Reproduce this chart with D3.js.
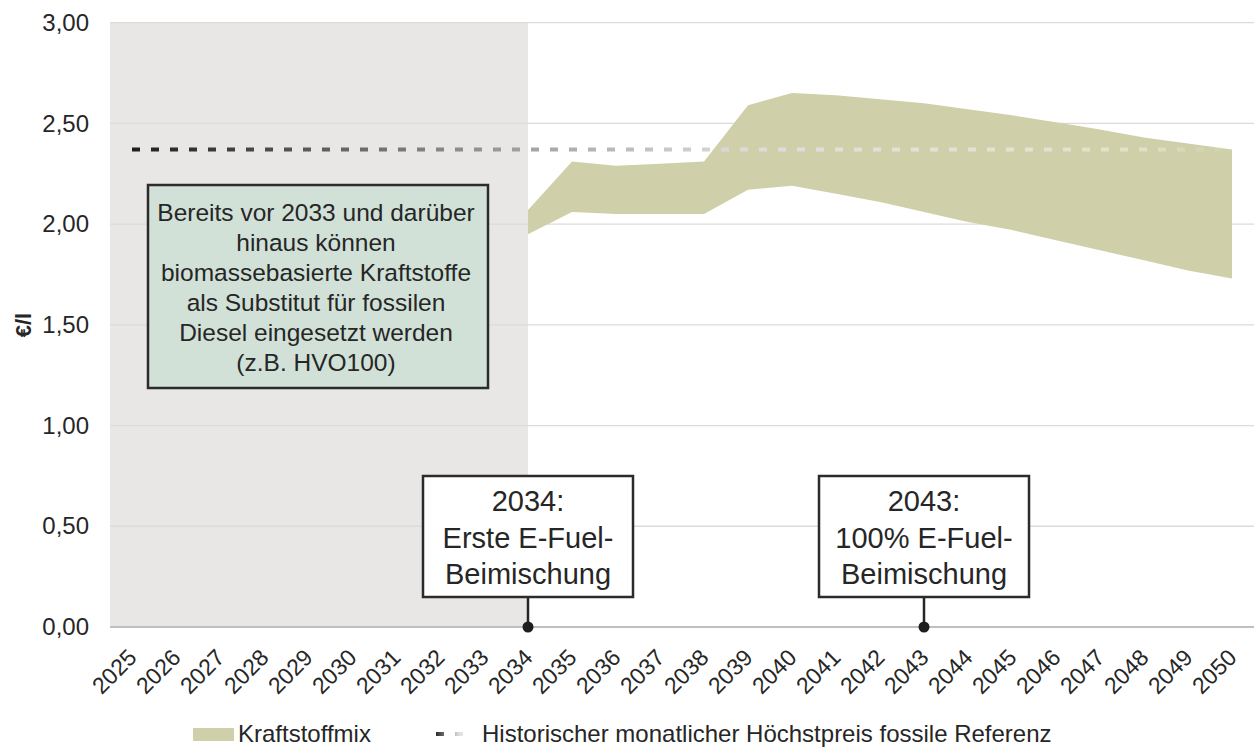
<!DOCTYPE html>
<html><head><meta charset="utf-8">
<script src="https://cdn.jsdelivr.net/npm/d3@7/dist/d3.min.js"></script>
<style>
body{margin:0;background:#fff;}
text{font-family:"Liberation Sans",Arial,sans-serif;fill:#262626;}
</style></head>
<body><svg id="c" width="1255" height="747"></svg>
<script>
const years = d3.range(2025, 2051).map(String);
const mixYears = ["2034","2035","2036","2037","2038","2039","2040","2041","2042","2043","2044","2045","2046","2047","2048","2049","2050"];
const mixUpper = [2.07,2.31,2.29,2.30,2.31,2.59,2.65,2.64,2.62,2.60,2.57,2.54,2.505,2.47,2.43,2.40,2.37];
const mixLower = [1.95,2.06,2.05,2.05,2.05,2.17,2.19,2.15,2.11,2.06,2.01,1.97,1.92,1.87,1.82,1.77,1.73];
const refYears = years;
const refValue = years.map(() => 2.37);
const yTicks = [0,0.5,1,1.5,2,2.5,3];
const shadeEnd = "2034";
const noteText = ["Bereits vor 2033 und darüber","hinaus können","biomassebasierte Kraftstoffe","als Substitut für fossilen","Diesel eingesetzt werden","(z.B. HVO100)"];
const callouts = [
  {year:"2034", lines:["2034:","Erste E-Fuel-","Beimischung"]},
  {year:"2043", lines:["2043:","100% E-Fuel-","Beimischung"]}
];
const legendLabels = ["Kraftstoffmix","Historischer monatlicher Höchstpreis fossile Referenz"];

const svg = d3.select("#c");
const L = 110, R = 1254, T = 22.6, B = 627;
const x = d3.scaleBand().domain(years).range([L, R]).padding(0);
const cx = d => x(d) + x.bandwidth()/2;
const y = d3.scaleLinear().domain([0,3]).range([B, T]);

// shaded region
svg.append("rect").attr("x", L).attr("y", T).attr("width", cx(shadeEnd) - L).attr("height", B - T).attr("fill", "#e8e7e5");

// gridlines
svg.append("g").selectAll("line").data(yTicks.filter(d => d > 0)).join("line")
  .attr("x1", L).attr("x2", R).attr("y1", d => y(d)).attr("y2", d => y(d))
  .attr("stroke", "#dddbd8").attr("stroke-width", 1.3);

// band
const mix = mixYears.map((yr,i) => ({yr, hi: mixUpper[i], lo: mixLower[i]}));
svg.append("path").datum(mix)
  .attr("d", d3.area().x(d => cx(d.yr)).y0(d => y(d.lo)).y1(d => y(d.hi)))
  .attr("fill", "#cfd0aa");

// baseline
svg.append("line").attr("x1", L).attr("x2", R).attr("y1", y(0)).attr("y2", y(0)).attr("stroke", "#bfbfbf").attr("stroke-width", 1.8);

// reference dashed gradient line
const defs = svg.append("defs");
const grad = defs.append("linearGradient").attr("id", "rg").attr("gradientUnits", "userSpaceOnUse")
  .attr("x1", cx(years[0])).attr("x2", cx(years[years.length-1])).attr("y1", 0).attr("y2", 0);
[[0,"#1e1e1e",1],[0.36,"#a3a3a3",1],[0.55,"#dadada",1],[0.75,"#eeeeee",0.6],[0.92,"#ffffff",0.35],[1,"#ffffff",0]]
  .forEach(s => grad.append("stop").attr("offset", s[0]).attr("stop-color", s[1]).attr("stop-opacity", s[2]));
const ref = refYears.map((yr,i) => ({yr, v: refValue[i]}));
svg.append("path").datum(ref)
  .attr("d", d3.line().x(d => cx(d.yr)).y(d => y(d.v)))
  .attr("fill", "none").attr("stroke", "url(#rg)").attr("stroke-width", 4)
  .attr("stroke-dasharray", "8,11");

// y axis
const yAx = svg.append("g").attr("transform", `translate(${L},0)`)
  .call(d3.axisLeft(y).tickValues(yTicks).tickSize(0).tickPadding(21).tickFormat(d => d3.format(".2f")(d).replace(".", ",")));
yAx.select(".domain").remove();
yAx.selectAll("text").attr("font-size", 24).style("font-family", "Liberation Sans, Arial, sans-serif").attr("fill", "#262626");

// x axis
const xAx = svg.append("g").attr("transform", `translate(0,${B})`)
  .call(d3.axisBottom(x).tickSize(0));
xAx.select(".domain").remove();
xAx.selectAll("text").attr("font-size", 23).style("font-family", "Liberation Sans, Arial, sans-serif").attr("fill", "#262626")
  .attr("text-anchor", "end").attr("y", 0).attr("dy", 0)
  .attr("transform", "translate(6,32) rotate(-45)");

// y label
svg.append("text").attr("transform", "translate(31,325) rotate(-90)").attr("text-anchor", "middle")
  .attr("font-size", 22).attr("font-weight", "bold").text("€/l");

// note box
svg.append("rect").attr("x", 148).attr("y", 185).attr("width", 340).attr("height", 203)
  .attr("fill", "#d1e1d7").attr("stroke", "#2b2b2b").attr("stroke-width", 2.5);
svg.append("g").selectAll("text").data(noteText).join("text")
  .attr("x", 316).attr("y", (d,i) => 221 + i*29.9).attr("text-anchor", "middle").attr("font-size", 24.5).attr("fill", "#111").text(d => d);

// callouts
callouts.forEach(c => {
  const px = cx(c.year);
  const g = svg.append("g");
  g.append("line").attr("x1", px).attr("x2", px).attr("y1", 597).attr("y2", y(0)).attr("stroke", "#262626").attr("stroke-width", 2.5);
  g.append("circle").attr("cx", px).attr("cy", y(0)).attr("r", 5.5).attr("fill", "#1e1e1e");
  g.append("rect").attr("x", px - 105).attr("y", 476).attr("width", 210).attr("height", 121)
    .attr("fill", "#fff").attr("stroke", "#2b2b2b").attr("stroke-width", 2.5);
  g.selectAll("text").data(c.lines).join("text")
    .attr("x", px).attr("y", (d,i) => 511 + i*36.5).attr("text-anchor", "middle").attr("font-size", 29).text(d => d);
});

// legend
const lg = svg.append("g");
lg.append("rect").attr("x", 193).attr("y", 728).attr("width", 41).attr("height", 13).attr("fill", "#cfd0aa");
lg.append("text").attr("x", 238).attr("y", 742).attr("font-size", 24).text(legendLabels[0]);
const lgrad = defs.append("linearGradient").attr("id", "lg").attr("gradientUnits", "userSpaceOnUse")
  .attr("x1", 435).attr("x2", 475).attr("y1", 0).attr("y2", 0);
[[0,"#262626",1],[0.6,"#dddddd",1],[1,"#ffffff",1]].forEach(s => lgrad.append("stop").attr("offset", s[0]).attr("stop-color", s[1]).attr("stop-opacity", s[2]));
lg.append("line").attr("x1", 436).attr("x2", 475).attr("y1", 734).attr("y2", 734)
  .attr("stroke", "url(#lg)").attr("stroke-width", 4).attr("stroke-dasharray", "8,11");
lg.append("text").attr("x", 482).attr("y", 742).attr("font-size", 24).text(legendLabels[1]);
</script></body></html>
